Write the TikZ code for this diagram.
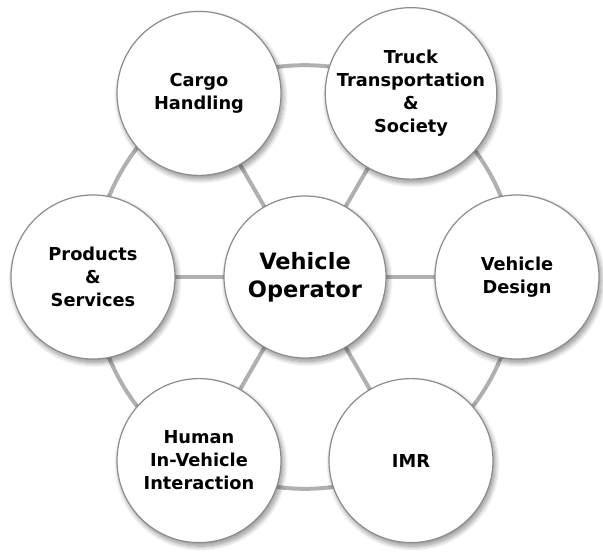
\documentclass[tikz,border=0pt]{standalone}
\usepackage{fontspec}
\setmainfont{DejaVu Sans}
\usetikzlibrary{shadows.blur,backgrounds}

\definecolor{ringgray}{HTML}{B0B0B0}
\definecolor{rimgray}{HTML}{8C8C8C}

\tikzset{
	topic/.style={circle, draw=rimgray, line width=1.2pt, fill=white,
		minimum size=164pt, inner sep=0pt, align=center,
		font=\bfseries\fontsize{17.8}{23}\selectfont,
		blur shadow={shadow xshift=2pt, shadow yshift=-3.5pt,
			shadow blur radius=5pt, shadow blur steps=12, shadow opacity=45}},
	hub/.style={topic, minimum size=162pt,
		font=\bfseries\fontsize{22.5}{28}\selectfont},
	link/.style={ringgray, line width=4pt}
}

\begin{document}
\begin{tikzpicture}[x=1pt,y=1pt]

	\useasboundingbox (0,0) rectangle (603,-552);

	\node[hub] (op) at (305,-277) {Vehicle\\Operator};

	\node[topic] (truck) at ([shift={(60:212)}]op) {Truck\\Transportation\\\&\\Society};
	\node[topic] (cargo) at ([shift={(120:212)}]op) {Cargo\\Handling};
	\node[topic] (prod) at ([shift={(180:212)}]op) {Products\\\&\\Services};
	\node[topic] (human) at ([shift={(240:212)}]op) {Human\\In-Vehicle\\Interaction};
	\node[topic] (imr) at ([shift={(300:212)}]op) {IMR};
	\node[topic] (design) at ([shift={(0:212)}]op) {Vehicle\\Design};

	\begin{scope}[on background layer]
		% spokes
		\draw[link] (op.center) -- (truck.center);
		\draw[link] (op.center) -- (cargo.center);
		\draw[link] (op.center) -- (prod.center);
		\draw[link] (op.center) -- (human.center);
		\draw[link] (op.center) -- (imr.center);
		\draw[link] (op.center) -- (design.center);
		% outer ring
		\draw[link] (design.center) to[bend right=30, looseness=0.91] (truck.center);
		\draw[link] (truck.center) to[bend right=30, looseness=0.91] (cargo.center);
		\draw[link] (cargo.center) to[bend right=30, looseness=0.91] (prod.center);
		\draw[link] (prod.center) to[bend right=30, looseness=0.91] (human.center);
		\draw[link] (human.center) to[bend right=30, looseness=0.91] (imr.center);
		\draw[link] (imr.center) to[bend right=30, looseness=0.91] (design.center);
	\end{scope}

\end{tikzpicture}
\end{document}
